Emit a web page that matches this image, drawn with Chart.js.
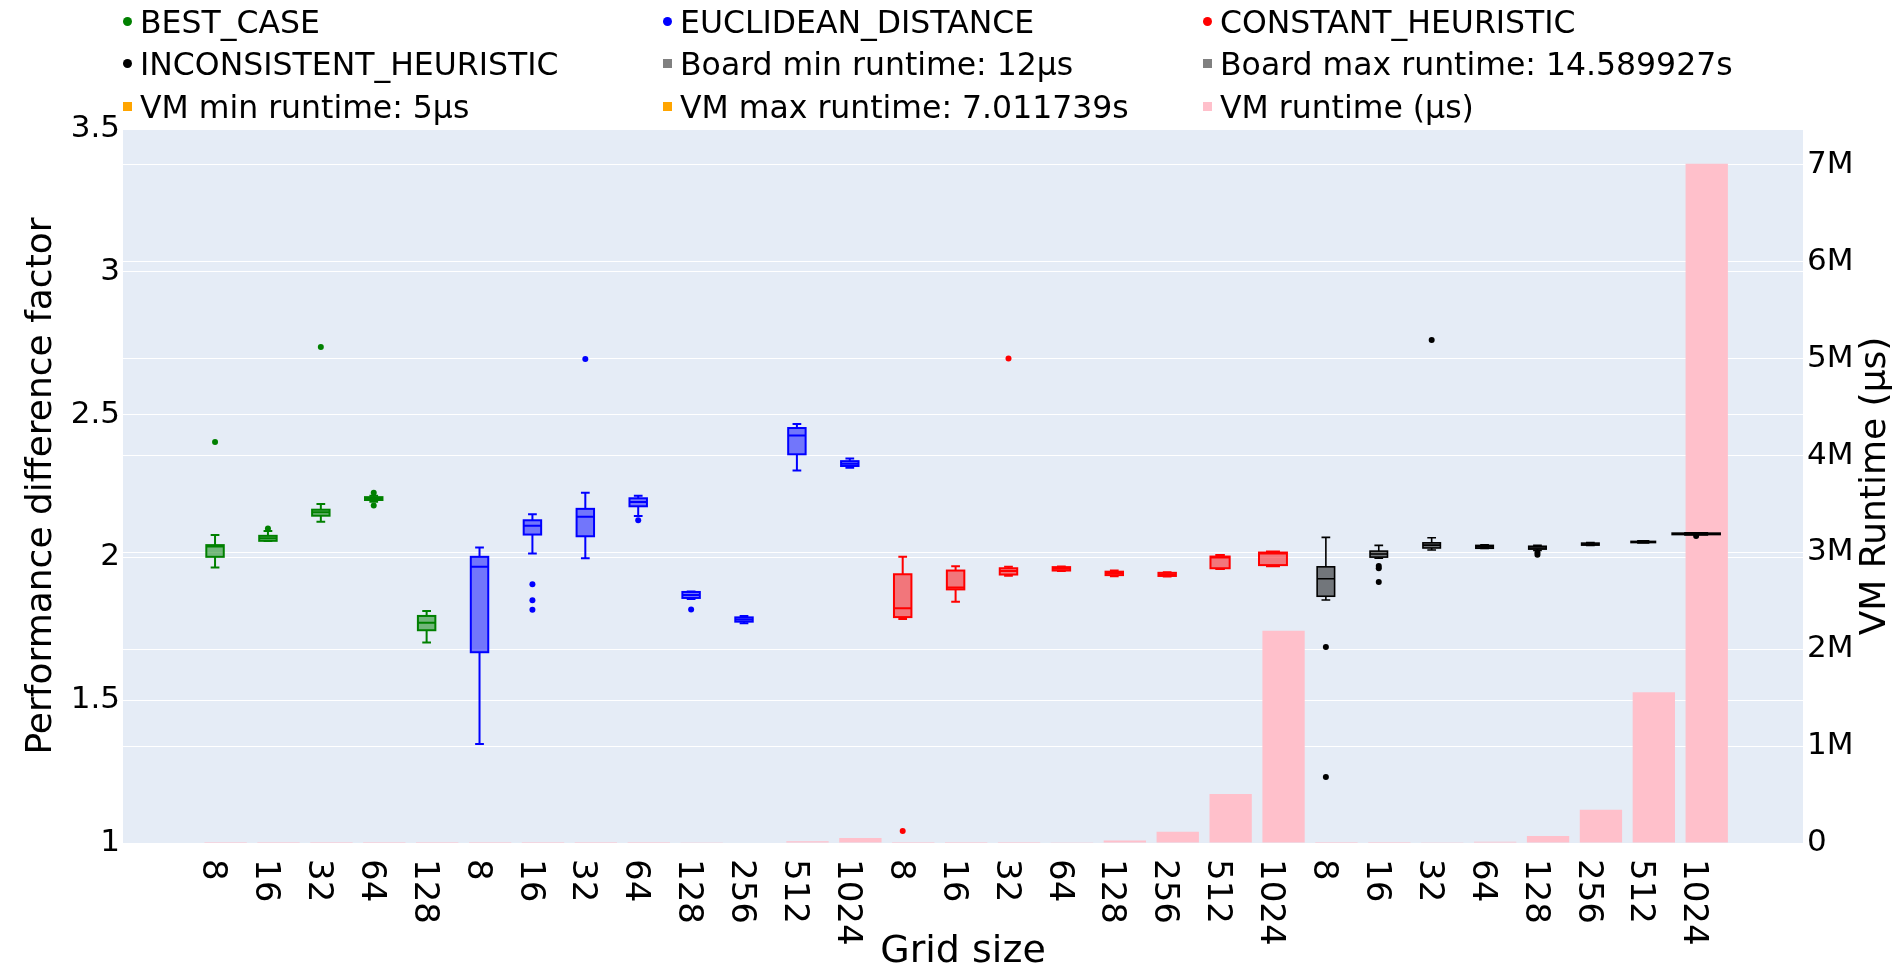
<!DOCTYPE html>
<html>
<head>
<meta charset="utf-8">
<script src="https://cdn.jsdelivr.net/npm/chart.js@4.4.1/dist/chart.umd.min.js"></script>
<style>
  html, body { margin: 0; padding: 0; background: #fff; }
  #wrap { position: relative; width: 1901px; height: 969px; }
  #legend { position: absolute; left: 0; top: 0; font-family: "DejaVu Sans", Verdana, sans-serif; font-size: 31.5px; color: #000; }
  .item { position: absolute; white-space: nowrap; line-height: 36px; height: 36px; }
  .mark { display: inline-block; width: 9px; height: 9px; margin-right: 8px; vertical-align: middle; position: relative; top: -3px; }
  .dot { border-radius: 50%; }
</style>
</head>
<body>
<div id="wrap">
  <canvas id="myChart" width="1901" height="969"></canvas>
  <div id="legend"></div>
</div>
<script>
// ------- DATA -------
var gridSizes = ['8', '16', '32', '64', '128',
                 '8', '16', '32', '64', '128', '256', '512', '1024',
                 '8', '16', '32', '64', '128', '256', '512', '1024',
                 '8', '16', '32', '64', '128', '256', '512', '1024'];
var groupNames = ['BEST_CASE', 'EUCLIDEAN_DISTANCE', 'CONSTANT_HEURISTIC', 'INCONSISTENT_HEURISTIC'];
var groupOf = [0, 0, 0, 0, 0,
               1, 1, 1, 1, 1, 1, 1, 1,
               2, 2, 2, 2, 2, 2, 2, 2,
               3, 3, 3, 3, 3, 3, 3, 3];

// box stats (performance difference factor)
var boxLow    = [1.965, 2.057, 2.125, 2.195, 1.702,
                 1.347, 2.014, 1.997, 2.145, 1.854, 1.769, 2.304, 2.314,
                 1.784, 1.845, 1.936, 1.952, 1.934, 1.933, 1.959, 1.969,
                 1.851, 1.997, 2.026, 2.031, 2.024, 2.042, 2.051, 2.079];
var boxQ1     = [2.002, 2.058, 2.146, 2.201, 1.745,
                 1.668, 2.080, 2.074, 2.179, 1.858, 1.775, 2.361, 2.320,
                 1.791, 1.888, 1.940, 1.954, 1.938, 1.935, 1.962, 1.973,
                 1.864, 2.001, 2.033, 2.032, 2.029, 2.043, 2.052, 2.080];
var boxMedian = [2.038, 2.067, 2.158, 2.206, 1.771,
                 1.967, 2.111, 2.142, 2.194, 1.868, 1.783, 2.427, 2.328,
                 1.822, 1.895, 1.952, 1.960, 1.945, 1.940, 2.000, 2.014,
                 1.925, 2.012, 2.043, 2.037, 2.033, 2.046, 2.054, 2.083];
var boxQ3     = [2.043, 2.0755, 2.167, 2.211, 1.795,
                 2.002, 2.130, 2.170, 2.207, 1.879, 1.790, 2.453, 2.337,
                 1.941, 1.954, 1.962, 1.966, 1.950, 1.946, 2.003, 2.017,
                 1.967, 2.022, 2.051, 2.042, 2.039, 2.050, 2.056, 2.085];
var boxHigh   = [2.078, 2.092, 2.187, 2.216, 1.812,
                 2.035, 2.151, 2.226, 2.216, 1.881, 1.795, 2.467, 2.346,
                 2.002, 1.969, 1.967, 1.968, 1.954, 1.948, 2.008, 2.021,
                 2.070, 2.042, 2.069, 2.044, 2.042, 2.052, 2.058, 2.086];
var outliers  = [[2.404], [2.101], [2.737], [2.226, 2.182], [],
                 [], [1.906, 1.850, 1.817], [2.695], [2.130], [1.818], [], [], [],
                 [1.042], [], [2.696], [], [], [], [], [],
                 [1.686, 1.231], [1.970, 1.962, 1.914], [2.761], [], [2.017, 2.009], [], [], [2.075]];

// VM runtime (μs)
var vmRuntime = [5, 9, 20, 60, 250,
                 8, 30, 120, 500, 2000, 5000, 17000, 52000,
                 10, 60, 400, 8000, 25000, 115000, 506000, 2190000,
                 15, 80, 1500, 14000, 72000, 342000, 1555000, 7011739];

var leftTicks = [1, 1.5, 2, 2.5, 3, 3.5];
var rightTicks = [0, 1000000, 2000000, 3000000, 4000000, 5000000, 6000000, 7000000];

var extraLegend = [
  ['Board min runtime: 12μs', 'gray'],
  ['Board max runtime: 14.589927s', 'gray'],
  ['VM min runtime: 5μs', 'orange'],
  ['VM max runtime: 7.011739s', 'orange'],
  ['VM runtime (μs)', 'pink']
];

// ------- STYLE -------
var groupColors = ['green', 'blue', 'red', 'black'];
var groupFills = ['rgba(0,128,0,0.5)', 'rgba(0,0,255,0.5)', 'rgba(255,0,0,0.5)', 'rgba(0,0,0,0.5)'];
var FONT = '"DejaVu Sans", Verdana, sans-serif';
var BOX_W = 0.33;
var BAR_SHIFT = 0.2;
var wideBoxes = {19: 1.1, 20: 1.6, 27: 1.4, 28: 2.75};

// LEGEND (html)
var legend = document.getElementById('legend');
var legendItems = groupNames.map(function (n, g) { return [n, groupColors[g], true]; })
  .concat(extraLegend.map(function (e) { return [e[0], e[1], false]; }));
var colX = [128, 668, 1208];
var rowY = [22, 64, 107];
legendItems.forEach(function (it, k) {
  var d = document.createElement('div');
  d.className = 'item';
  d.style.left = (colX[k % 3] - 5) + 'px';
  d.style.top = (rowY[Math.floor(k / 3)] - 18) + 'px';
  var m = document.createElement('span');
  m.className = 'mark' + (it[2] ? ' dot' : '');
  m.style.background = it[1];
  d.appendChild(m);
  d.appendChild(document.createTextNode(it[0]));
  legend.appendChild(d);
});

// ------- PLUGINS -------
var plotBg = {
  id: 'plotBg',
  beforeDraw: function (chart) {
    var a = chart.chartArea, ctx = chart.ctx;
    ctx.save();
    ctx.fillStyle = '#E5ECF6';
    ctx.fillRect(a.left, a.top, a.right - a.left, a.bottom - a.top);
    ctx.restore();
  }
};

function drawBoxes(chart) {
  var ctx = chart.ctx, xs = chart.scales.x, ys = chart.scales.y;
  var unit = xs.getPixelForValue(1) - xs.getPixelForValue(0);
  ctx.save();
  for (var i = 0; i < gridSizes.length; i++) {
    var g = groupOf[i];
    var cx = xs.getPixelForValue(i);
    var w = unit * BOX_W * (wideBoxes[i] || 1);
    var yq1 = ys.getPixelForValue(boxQ1[i]), yq3 = ys.getPixelForValue(boxQ3[i]);
    var ym = ys.getPixelForValue(boxMedian[i]);
    var ylo = ys.getPixelForValue(boxLow[i]), yhi = ys.getPixelForValue(boxHigh[i]);
    ctx.lineWidth = g === 3 ? 1.6 : 2;
    ctx.strokeStyle = groupColors[g];
    ctx.fillStyle = groupFills[g];
    ctx.fillRect(cx - w / 2, yq3, w, yq1 - yq3);
    ctx.strokeRect(cx - w / 2, yq3, w, yq1 - yq3);
    ctx.beginPath();
    ctx.moveTo(cx - w / 2, ym); ctx.lineTo(cx + w / 2, ym);
    ctx.moveTo(cx, yq3); ctx.lineTo(cx, yhi);
    ctx.moveTo(cx - w / 4, yhi); ctx.lineTo(cx + w / 4, yhi);
    ctx.moveTo(cx, yq1); ctx.lineTo(cx, ylo);
    ctx.moveTo(cx - w / 4, ylo); ctx.lineTo(cx + w / 4, ylo);
    ctx.stroke();
  }
  ctx.restore();
}

var boxPlot = {
  id: 'boxPlot',
  afterDatasetDraw: function (chart, args) {
    if (args.index === 0) drawBoxes(chart);
  },
  afterDraw: function (chart) {
    var ctx = chart.ctx, xs = chart.scales.x, a = chart.chartArea;
    ctx.save();
    ctx.fillStyle = '#000';
    ctx.font = '34px ' + FONT;
    ctx.textAlign = 'left';
    ctx.textBaseline = 'middle';
    for (var i = 0; i < gridSizes.length; i++) {
      ctx.save();
      ctx.translate(xs.getPixelForValue(i) - 3, a.bottom + 16);
      ctx.rotate(Math.PI / 2);
      ctx.fillText(gridSizes[i], 0, 0);
      ctx.restore();
    }
    // right axis title, reads bottom to top
    ctx.font = '36px ' + FONT;
    ctx.textAlign = 'center';
    ctx.translate(1876, (a.top + a.bottom) / 2);
    ctx.rotate(-Math.PI / 2);
    ctx.fillText('VM Runtime (μs)', 0, 0);
    ctx.restore();
  }
};

// ------- CHART -------
var outlierSets = groupNames.map(function (name, g) {
  var pts = [];
  outliers.forEach(function (list, i) {
    if (groupOf[i] !== g) return;
    list.forEach(function (v) { pts.push({x: i, y: v}); });
  });
  return {
    type: 'scatter',
    label: name,
    data: pts,
    yAxisID: 'y',
    pointRadius: 3,
    pointBorderWidth: 0,
    pointBackgroundColor: groupColors[g],
    order: 0
  };
});

var data = {
  datasets: [{
    type: 'bar',
    label: 'VM runtime (μs)',
    data: vmRuntime.map(function (v, i) { return {x: i + BAR_SHIFT, y: v}; }),
    yAxisID: 'y2',
    backgroundColor: 'pink',
    barPercentage: 0.8,
    categoryPercentage: 1.0,
    order: 10
  }].concat(outlierSets)
};

var config = {
  type: 'bar',
  data: data,
  options: {
    responsive: false,
    animation: false,
    layout: { padding: { top: 129, left: 0, right: 0, bottom: 0 } },
    plugins: { legend: { display: false }, tooltip: { enabled: false } },
    scales: {
      x: {
        type: 'linear',
        offset: false,
        min: -1.74,
        max: 30.02,
        grid: { display: false, offset: false },
        border: { display: false },
        ticks: { display: false },
        title: {
          display: true,
          text: 'Grid size',
          color: '#000',
          font: { family: FONT, size: 38, lineHeight: 0.9 },
          padding: { top: 0, bottom: 0 }
        },
        afterFit: function (s) { s.height = 126; }
      },
      y: {
        position: 'left',
        min: 1,
        max: 3.5,
        grid: { color: '#fff', lineWidth: 1, drawTicks: false },
        border: { display: false },
        afterBuildTicks: function (s) { s.ticks = leftTicks.map(function (v) { return {value: v}; }); },
        ticks: {
          color: '#000',
          padding: 3,
          font: { family: FONT, size: 31 },
          callback: function (v) { return String(v); }
        },
        title: {
          display: true,
          text: 'Performance difference factor',
          color: '#000',
          font: { family: FONT, size: 36 },
          padding: { top: 20, bottom: 0 }
        },
        afterFit: function (s) { s.width = 123; }
      },
      y2: {
        position: 'right',
        min: 0,
        max: 7370000,
        grid: { color: '#fff', lineWidth: 1, drawTicks: false },
        border: { display: false },
        afterBuildTicks: function (s) { s.ticks = rightTicks.map(function (v) { return {value: v}; }); },
        ticks: {
          color: '#000',
          padding: 4,
          font: { family: FONT, size: 31 },
          callback: function (v) { return v === 0 ? '0' : (v / 1000000) + 'M'; }
        },
        afterFit: function (s) { s.width = 98; }
      }
    }
  },
  plugins: [plotBg, boxPlot]
};

var myChart = new Chart(document.getElementById('myChart'), config);
</script>
</body>
</html>
